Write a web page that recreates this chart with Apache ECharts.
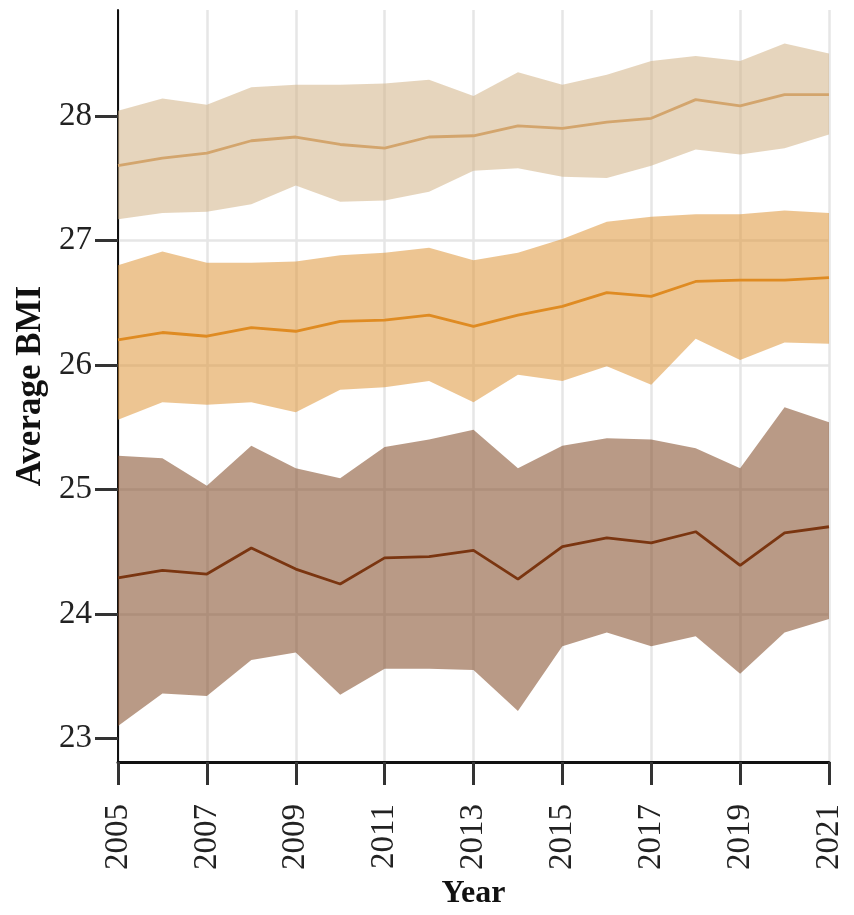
<!DOCTYPE html>
<html>
<head>
<meta charset="utf-8">
<style>
  html, body { margin: 0; padding: 0; background: #ffffff; }
  #chart { width: 854px; height: 915px; }
</style>
<script src="https://cdn.jsdelivr.net/npm/echarts@6/dist/echarts.min.js"></script>
</head>
<body>
<div id="chart"></div>
<script>
const years = ['2005','2006','2007','2008','2009','2010','2011','2012','2013','2014','2015','2016','2017','2018','2019','2020','2021'];
const yTicks = [23, 24, 25, 26, 27, 28];

const topUpper = [28.04,28.14,28.09,28.23,28.25,28.25,28.26,28.29,28.16,28.35,28.25,28.33,28.44,28.48,28.44,28.58,28.50];
const topMean  = [27.60,27.66,27.70,27.80,27.83,27.77,27.74,27.83,27.84,27.92,27.90,27.95,27.98,28.13,28.08,28.17,28.17];
const topLower = [27.17,27.22,27.23,27.29,27.44,27.31,27.32,27.39,27.56,27.58,27.51,27.50,27.60,27.73,27.69,27.74,27.85];

const midUpper = [26.80,26.91,26.82,26.82,26.83,26.88,26.90,26.94,26.84,26.90,27.01,27.15,27.19,27.21,27.21,27.24,27.22];
const midMean  = [26.20,26.26,26.23,26.30,26.27,26.35,26.36,26.40,26.31,26.40,26.47,26.58,26.55,26.67,26.68,26.68,26.70];
const midLower = [25.56,25.70,25.68,25.70,25.62,25.80,25.82,25.87,25.70,25.92,25.87,25.99,25.84,26.21,26.04,26.18,26.17];

const lowUpper = [25.27,25.25,25.03,25.35,25.17,25.09,25.34,25.40,25.48,25.17,25.35,25.41,25.40,25.33,25.17,25.66,25.54];
const lowMean  = [24.29,24.35,24.32,24.53,24.36,24.24,24.45,24.46,24.51,24.28,24.54,24.61,24.57,24.66,24.39,24.65,24.70];
const lowLower = [23.10,23.36,23.34,23.63,23.69,23.35,23.56,23.56,23.55,23.22,23.74,23.85,23.74,23.82,23.52,23.85,23.96];

const groups = [
  { id: 'top', upper: topUpper, mean: topMean, lower: topLower, fill: 'rgba(210,179,135,0.55)', line: '#d3a56d' },
  { id: 'mid', upper: midUpper, mean: midMean, lower: midLower, fill: 'rgba(222,150,57,0.55)', line: '#df8b22' },
  { id: 'low', upper: lowUpper, mean: lowMean, lower: lowLower, fill: 'rgba(128,71,35,0.55)', line: '#7a3510' }
];

const series = [];
groups.forEach(g => {
  series.push({
    type: 'line', stack: g.id, data: g.lower, symbol: 'none', silent: true,
    lineStyle: { width: 0, opacity: 0 }, z: 1
  });
  series.push({
    type: 'line', stack: g.id, data: g.upper.map((u, i) => +(u - g.lower[i]).toFixed(4)),
    symbol: 'none', silent: true,
    lineStyle: { width: 0, opacity: 0 },
    areaStyle: { color: g.fill, opacity: 1 }, z: 1
  });
});
groups.forEach(g => {
  series.push({
    type: 'line', data: g.mean, symbol: 'none', silent: true,
    lineStyle: { width: 2.8, color: g.line }, z: 3
  });
});

const chart = echarts.init(document.getElementById('chart'), null, { renderer: 'canvas' });
const serif = '"Liberation Serif", "DejaVu Serif", serif';
chart.setOption({
  animation: false,
  backgroundColor: '#ffffff',
  grid: { left: 118, right: 25, top: 10, bottom: 148, containLabel: false },
  xAxis: {
    type: 'category',
    data: years,
    boundaryGap: false,
    name: 'Year',
    nameLocation: 'middle',
    nameGap: 113,
    nameTextStyle: { fontFamily: serif, fontSize: 32, fontWeight: 'bold', color: '#111' },
    axisLine: { show: true, lineStyle: { color: '#111', width: 3 } },
    axisTick: { show: true, interval: 1, length: 23, lineStyle: { color: '#333', width: 3 } },
    axisLabel: { interval: 1, rotate: 90, margin: 42, fontFamily: serif, fontSize: 33, color: '#222' },
    splitLine: { show: true, interval: 1, lineStyle: { color: '#e6e6e6', width: 2.5 } }
  },
  yAxis: {
    type: 'value',
    min: 22.81,
    max: 28.85,
    splitNumber: 6,
    name: 'Average BMI',
    nameLocation: 'middle',
    nameGap: 67,
    nameTextStyle: { fontFamily: serif, fontSize: 35, fontWeight: 'bold', color: '#111' },
    axisLine: { show: true, lineStyle: { color: '#111', width: 2 } },
    axisTick: { show: true, length: 23, customValues: yTicks, lineStyle: { color: '#333', width: 3 } },
    axisLabel: {
      margin: 26, fontFamily: serif, fontSize: 33, color: '#222',
      customValues: yTicks,
      formatter: v => (Math.abs(v - Math.round(v)) < 1e-6 ? String(Math.round(v)) : '')
    },
    splitLine: { show: true, showMinLine: false, showMaxLine: false, lineStyle: { color: '#e6e6e6', width: 2.5 } }
  },
  series: series
});
</script>
</body>
</html>
